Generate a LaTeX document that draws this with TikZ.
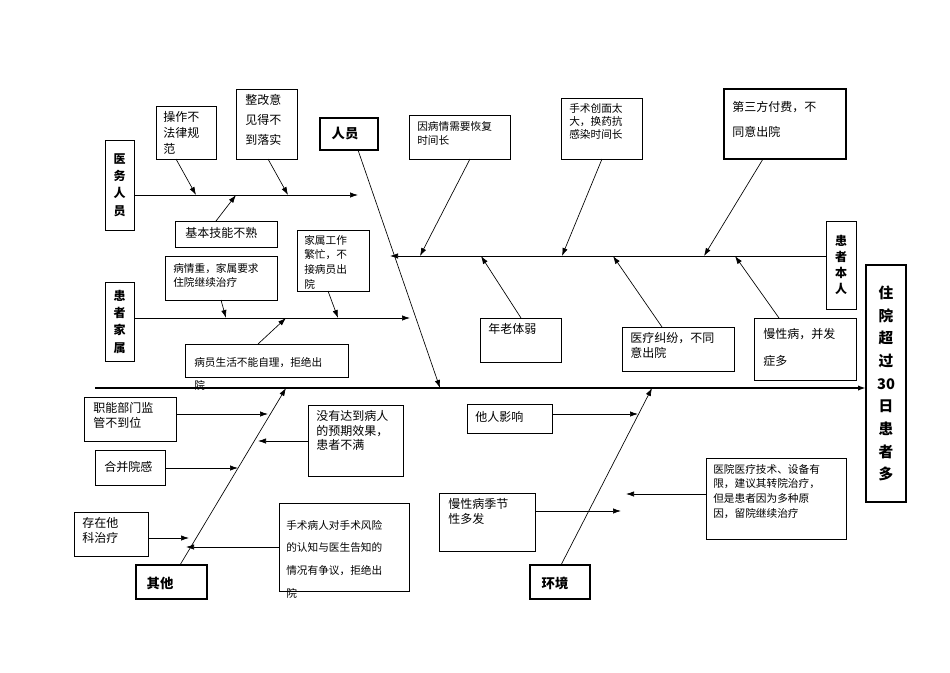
\documentclass[tikz,border=0pt]{standalone}
\usepackage{fontspec}
\setmainfont{Noto Sans CJK SC}
\usetikzlibrary{fit,arrows.meta}
\tikzset{
 bx/.style={draw,line width=0.6pt,inner sep=0pt,fit={#1}},
 bxb/.style={draw,line width=1.4pt,inner sep=0pt,fit={#1}},
 tx/.style={anchor=north west,align=left,inner sep=0pt,font=\fontsize{9}{12}\selectfont},
 arr/.style={-{Latex[length=6pt,width=4pt]},line width=0.5pt},
}
\begin{document}
\begin{tikzpicture}[x=0.75pt,y=-0.75pt]
\useasboundingbox (0,0) rectangle (950,672);
% spine
\coordinate (s0) at (95,388); \coordinate (s1) at (866,388);
\draw[arr,line width=1.2pt] (s0) -- (s1);
\node[bxb={(866,265)(906,502)}] (head) {};
\node[font=\bfseries\fontsize{11}{17}\selectfont,align=center] at (head.center) {住\\院\\超\\过\\30\\日\\患\\者\\多};
% 人员
\node[bxb={(320,118)(378,150)}] (ry) {};
\node[font=\bfseries\fontsize{10}{12}\selectfont,anchor=west] at (327,134) {人员};
\coordinate (ryb) at (358,150); \coordinate (ryt) at (440,388);
\draw[arr] (ryb) -- (ryt);
% 医务人员
\node[bx={(105,140)(134,230)}] (yw) {};
\node[font=\bfseries\fontsize{9}{13}\selectfont,align=center] at (yw.center) {医\\务\\人\\员};
\coordinate (l1e) at (358,195);
\draw[arr] (yw.east|-l1e) -- (l1e);
\node[bx={(156,106)(216,159)}] (a1) {};
\node[tx,text width=38pt] at (163,111) {操作不\\法律规\\范};
\coordinate (a1t) at (196,195); \draw[arr] (176,159) -- (a1t);
\node[bx={(236,89)(297,159)}] (a2) {};
\node[tx,text width=40pt,font=\fontsize{9}{15}\selectfont] at (245,94) {整改意\\见得不\\到落实};
\coordinate (a2t) at (288,195); \draw[arr] (268,159) -- (a2t);
\node[bx={(175,221)(277,247)}] (a3) {};
\node[tx] at (185,227) {基本技能不熟};
\coordinate (a3t) at (236,195); \draw[arr] (216,221) -- (a3t);
% 患者家属
\node[bx={(105,282)(134,361)}] (js) {};
\node[font=\bfseries\fontsize{9}{13}\selectfont,align=center] at (js.center) {患\\者\\家\\属};
\coordinate (l2e) at (410,318);
\draw[arr] (js.east|-l2e) -- (l2e);
\node[bx={(165,256)(277,300)}] (b1) {};
\node[tx,font=\fontsize{8}{11}\selectfont] at (173,263) {病情重，家属要求\\住院继续治疗};
\coordinate (b1t) at (226,318); \draw[arr] (221,300) -- (b1t);
\node[bx={(297,230)(369,291)}] (b2) {};
\node[tx,font=\fontsize{8}{11}\selectfont] at (304,235) {家属工作\\繁忙，不\\接病员出\\院};
\coordinate (b2t) at (338,318); \draw[arr] (328,291) -- (b2t);
\node[bx={(185,344)(348,377)}] (b3) {};
\node[tx,font=\fontsize{8}{17}\selectfont] at (194,357) {病员生活不能自理，拒绝出\\院};
\coordinate (b3t) at (286,318); \draw[arr] (258,344) -- (b3t);
% 患者本人
\node[bx={(826,221)(856,309)}] (br) {};
\node[font=\bfseries\fontsize{9}{12}\selectfont,align=center] at (br.center) {患\\者\\本\\人};
\coordinate (l3e) at (390,256);
\draw[arr] (br.west|-l3e) -- (l3e);
\node[bx={(409,115)(510,159)}] (c1) {};
\node[tx,font=\fontsize{8}{11}\selectfont] at (417,121) {因病情需要恢复\\时间长};
\coordinate (c1t) at (420,256); \draw[arr] (470,159) -- (c1t);
\node[bx={(561,98)(642,159)}] (c2) {};
\node[tx,font=\fontsize{8}{10}\selectfont] at (569,103) {手术创面太\\大，换药抗\\感染时间长};
\coordinate (c2t) at (562,256); \draw[arr] (602,159) -- (c2t);
\node[bxb={(724,89)(846,159)}] (c3) {};
\node[tx,font=\fontsize{9}{19}\selectfont] at (732,101) {第三方付费，不\\同意出院};
\coordinate (c3t) at (704,256); \draw[arr] (763,159) -- (c3t);
\node[bx={(480,318)(561,362)}] (c4) {};
\node[tx] at (488,323) {年老体弱};
\coordinate (c4t) at (481,256); \draw[arr] (521,318) -- (c4t);
\node[bx={(622,327)(734,371)}] (c5) {};
\node[tx,font=\fontsize{9}{11}\selectfont] at (630,332) {医疗纠纷，不同\\意出院};
\coordinate (c5t) at (613,256); \draw[arr] (662,327) -- (c5t);
\node[bx={(754,318)(856,380)}] (c6) {};
\node[tx,font=\fontsize{9}{20}\selectfont] at (763,328) {慢性病，并发\\症多};
\coordinate (c6t) at (735,256); \draw[arr] (779,318) -- (c6t);
% 其他
\node[bxb={(136,565)(207,599)}] (qt) {};
\node[font=\bfseries\fontsize{10}{12}\selectfont,anchor=west] at (142,583) {其他};
\coordinate (qtb) at (180,565); \coordinate (qtt) at (286,388);
\draw[arr] (qtb) -- (qtt);
\node[bx={(84,397)(176,441)}] (d1) {};
\node[tx,font=\fontsize{9}{11}\selectfont] at (93,402) {职能部门监\\管不到位};
\coordinate (d1t) at (268,414); \draw[arr] (d1.east|-d1t) -- (d1t);
\node[bx={(308,405)(403,476)}] (d2) {};
\node[tx,font=\fontsize{9}{11}\selectfont] at (316,410) {没有达到病人\\的预期效果，\\患者不满};
\coordinate (d2t) at (258,441); \draw[arr] (d2.west|-d2t) -- (d2t);
\node[bx={(95,450)(165,485)}] (d3) {};
\node[tx] at (104,461) {合并院感};
\coordinate (d3t) at (238,468); \draw[arr] (d3.east|-d3t) -- (d3t);
\node[bx={(74,512)(148,556)}] (d4) {};
\node[tx,font=\fontsize{9}{11}\selectfont] at (82,517) {存在他\\科治疗};
\coordinate (d4t) at (189,538); \draw[arr] (d4.east|-d4t) -- (d4t);
\node[bx={(279,503)(409,591)}] (d5) {};
\node[tx,font=\fontsize{8}{17}\selectfont] at (286,520) {手术病人对手术风险\\的认知与医生告知的\\情况有争议，拒绝出\\院};
\coordinate (d5t) at (186,547); \draw[arr] (d5.west|-d5t) -- (d5t);
% 环境
\node[bxb={(530,565)(590,599)}] (hj) {};
\node[font=\bfseries\fontsize{10}{12}\selectfont,anchor=west] at (537,583) {环境};
\coordinate (hjb) at (561,565); \coordinate (hjt) at (652,388);
\draw[arr] (hjb) -- (hjt);
\node[bx={(467,404)(552,433)}] (e1) {};
\node[tx] at (475,411) {他人影响};
\coordinate (e1t) at (638,414); \draw[arr] (e1.east|-e1t) -- (e1t);
\node[bx={(706,458)(846,539)}] (e2) {};
\node[tx,font=\fontsize{8}{11}\selectfont] at (713,464) {医院医疗技术、设备有\\限，建议其转院治疗，\\但是患者因为多种原\\因，留院继续治疗};
\coordinate (e2t) at (626,494); \draw[arr] (e2.west|-e2t) -- (e2t);
\node[bx={(439,493)(535,551)}] (e3) {};
\node[tx,font=\fontsize{9}{11}\selectfont] at (448,498) {慢性病季节\\性多发};
\coordinate (e3t) at (621,511); \draw[arr] (e3.east|-e3t) -- (e3t);
\end{tikzpicture}
\end{document}
